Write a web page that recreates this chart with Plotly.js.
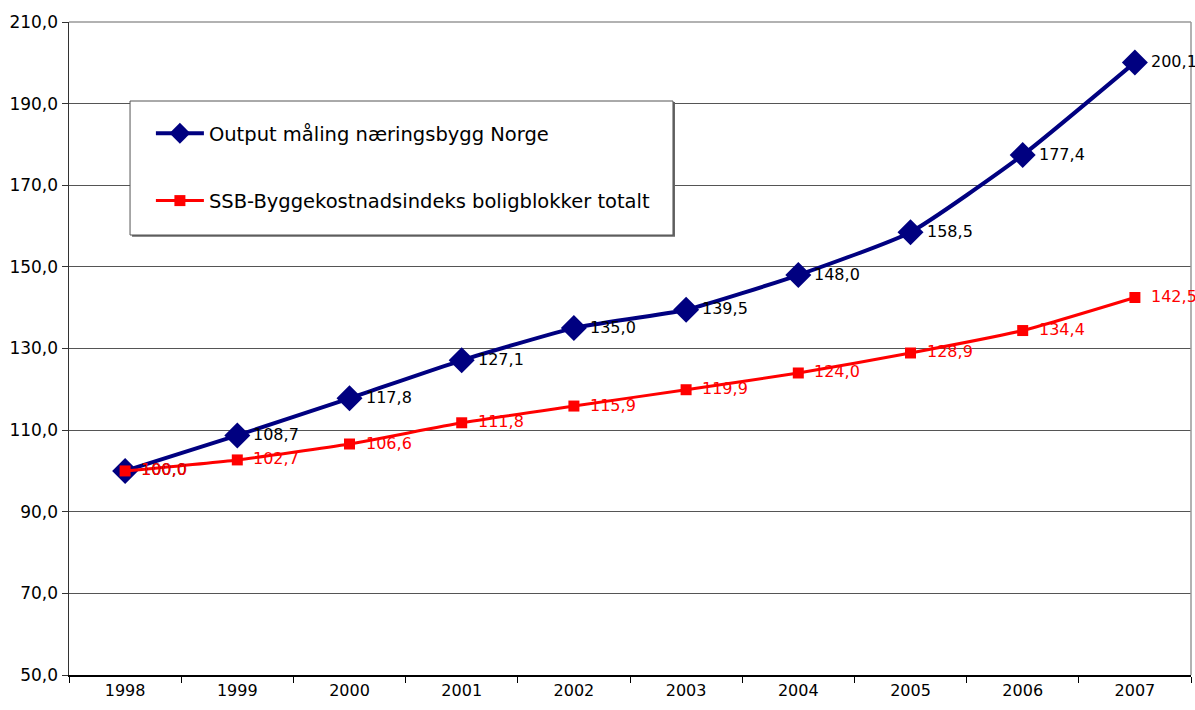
<!DOCTYPE html>
<html>
<head>
<meta charset="utf-8">
<script src="https://cdn.plot.ly/plotly-3.0.1.min.js"></script>
<style>html,body{margin:0;padding:0;background:#fff;}#chart{width:1195px;height:710px;}</style>
</head>
<body>
<div id="chart"></div>
<script>
const years = ['1998','1999','2000','2001','2002','2003','2004','2005','2006','2007'];
const outputValues = [100.0, 108.7, 117.8, 127.1, 135.0, 139.5, 148.0, 158.5, 177.4, 200.1];
const ssbValues = [100.0, 102.7, 106.6, 111.8, 115.9, 119.9, 124.0, 128.9, 134.4, 142.5];
const seriesNames = ['Output måling næringsbygg Norge', 'SSB-Byggekostnadsindeks boligblokker totalt'];
const yTicks = [50, 70, 90, 110, 130, 150, 170, 190, 210];

const fmt = v => v.toFixed(1).replace('.', ',');
const FONT = 'DejaVu Sans, Verdana, sans-serif';

const traces = [
  {
    x: years, y: outputValues, name: seriesNames[0], type: 'scatter', mode: 'lines+markers',
    line: {color: '#000080', width: 4, shape: 'spline', smoothing: 0.5},
    marker: {symbol: 'diamond', size: 20, color: '#000080'},
    cliponaxis: false, legendgroup: 'a', hoverinfo: 'skip'
  },
  {
    x: years, y: ssbValues, name: seriesNames[1], type: 'scatter', mode: 'lines+markers',
    line: {color: '#FF0000', width: 3, shape: 'spline', smoothing: 0.5},
    marker: {symbol: 'square', size: 11, color: '#FF0000'},
    cliponaxis: false, legendgroup: 'b', hoverinfo: 'skip'
  }
];

// category axis: annotation x given as category index
function labels(vals, color) {
  return years.map((yr, i) => ({
    x: i, y: vals[i], xref: 'x', yref: 'y', text: fmt(vals[i]),
    showarrow: false, xanchor: 'left', yanchor: 'middle', xshift: 14, yshift: 1,
    font: {family: FONT, size: 16, color: color}
  }));
}

const layout = {
  width: 1195, height: 710,
  margin: {l: 69, r: 4, t: 22, b: 35},
  paper_bgcolor: '#ffffff', plot_bgcolor: '#ffffff',
  separators: ', ',
  font: {family: FONT, size: 16, color: '#000'},
  showlegend: true,
  legend: {
    x: 0.073, xanchor: 'left', y: 0.859, yanchor: 'top',
    bgcolor: 'rgba(0,0,0,0)', borderwidth: 0,
    traceorder: 'grouped', tracegroupgap: 39, itemwidth: 48,
    font: {family: FONT, size: 19.5, color: '#000'}
  },
  xaxis: {
    type: 'category', range: [-0.5, 9.5], tickson: 'boundaries',
    ticks: 'outside', ticklen: 6, tickcolor: '#000', tickwidth: 1,
    showline: true, linecolor: '#000', linewidth: 1.5, showgrid: false,
    tickfont: {family: FONT, size: 16, color: '#000'}, fixedrange: true
  },
  yaxis: {
    range: [50, 210], tickvals: yTicks, ticktext: yTicks.map(fmt),
    ticks: 'outside', ticklen: 6, tickcolor: '#333', tickwidth: 1,
    showline: true, linecolor: '#333', linewidth: 1.5,
    showgrid: true, gridcolor: '#555', gridwidth: 1, zeroline: false,
    tickfont: {family: FONT, size: 17, color: '#000'}, fixedrange: true
  },
  annotations: labels(outputValues, '#000000').concat(labels(ssbValues, '#FF0000')),
  shapes: [
    {type: 'line', xref: 'paper', yref: 'paper', x0: 1, x1: 1, y0: 0, y1: 1, line: {color: '#999', width: 1.5}},
    {type: 'line', xref: 'paper', yref: 'paper', x0: 0, x1: 1, y0: 1, y1: 1, line: {color: '#999', width: 1.5}},
    {type: 'rect', xref: 'paper', yref: 'paper', x0: 0.0562, x1: 0.5401, y0: 0.6713, y1: 0.8775, line: {width: 0}, fillcolor: '#666', layer: 'above'},
    {type: 'rect', xref: 'paper', yref: 'paper', x0: 0.0544, x1: 0.5383, y0: 0.6738, y1: 0.8790, line: {color: '#555', width: 1}, fillcolor: '#ffffff', layer: 'above'}
  ]
};

Plotly.newPlot('chart', traces, layout, {displayModeBar: false, staticPlot: true});
</script>
</body>
</html>
